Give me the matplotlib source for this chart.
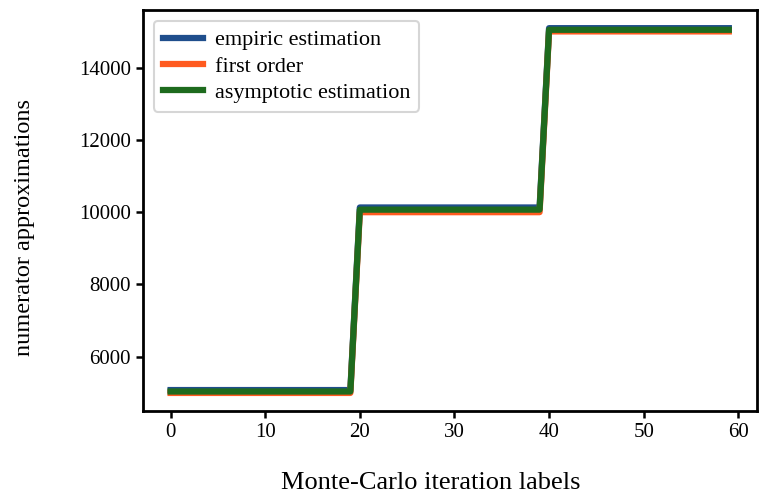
import numpy as np
import matplotlib
matplotlib.use("Agg")
import matplotlib.pyplot as plt

plt.rcParams['font.family'] = ['Liberation Serif', 'DejaVu Serif']

# iteration labels 0..59, three plateaus of 20 iterations each
iterations = list(range(60))
empiric = [5080] * 20 + [10130] * 20 + [15090] * 20
first_order = [5000] * 20 + [10000] * 20 + [15000] * 20
asymptotic = [5040] * 20 + [10070] * 20 + [15045] * 20

fig = plt.figure(figsize=(7.59, 4.96), dpi=100)
ax = fig.add_axes([0.188, 0.171, 0.809, 0.809])

ax.plot(iterations, empiric, color='#1f4e8c', lw=4.5, label='empiric estimation')
ax.plot(iterations, first_order, color='#ff5a1f', lw=4.5, label='first order')
ax.plot(iterations, asymptotic, color='#1e6b1e', lw=4.5, label='asymptotic estimation')

ax.set_xticks([0, 10, 20, 30, 40, 50, 60])
ax.set_yticks([6000, 8000, 10000, 12000, 14000])
ax.tick_params(labelsize=15, width=1.8, length=5)
for s in ax.spines.values():
    s.set_linewidth(2)

ax.set_xlabel('Monte-Carlo iteration labels', fontsize=19)
ax.set_ylabel('numerator approximations', fontsize=17.5)
ax.xaxis.set_label_coords(0.469, -0.152)
ax.yaxis.set_label_coords(-0.176, 0.459)

leg = ax.legend(loc='upper left', fontsize=16, handlelength=1.8, handletextpad=0.55,
                borderpad=0.4, labelspacing=0.25)
leg.get_frame().set_linewidth(1.5)

fig.savefig('out.png', dpi=100)
